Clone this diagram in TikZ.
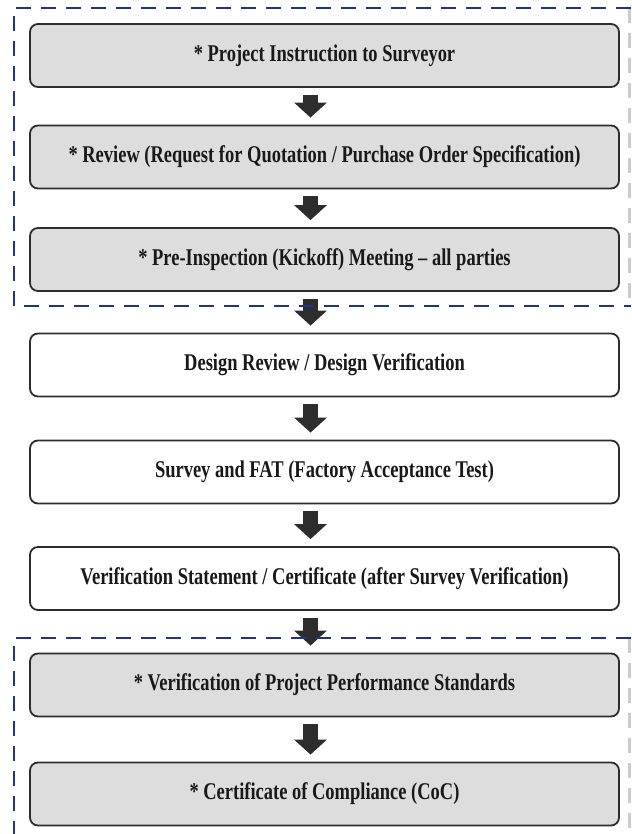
\documentclass[tikz,border=0pt]{standalone}
\usepackage{fontspec}
\usetikzlibrary{arrows.meta}
\newfontfamily\stagefont{Liberation Serif}[FakeStretch=0.77]
\definecolor{navy}{RGB}{28,52,140}
\definecolor{boxgray}{RGB}{221,221,221}
\definecolor{edgegray}{RGB}{45,45,45}

\begin{document}
\begin{tikzpicture}[x=1pt,y=-1pt,
        stage/.style={draw=edgegray,line width=1.8pt,rounded corners=8pt,minimum width=589pt,minimum height=63pt,inner sep=0pt,text=black!90,font=\stagefont\bfseries\fontsize{24}{27}\selectfont},
        graystage/.style={stage,fill=boxgray},
        whitestage/.style={stage,fill=white},
        flow/.style={edgegray,line width=15pt,-{Triangle[width=32pt,length=15pt]}},
        groupline/.style={navy,line width=2.6pt,dash pattern=on 15pt off 10pt},
        groupedge/.style={black!20,line width=3pt,dash pattern=on 15pt off 10pt}]
                \useasboundingbox (0,0) rectangle (631,834);
                \node[graystage] (instr) at (324.5,55.5) {* Project Instruction to Surveyor};
                \node[graystage] (review) at (324.5,157) {* Review (Request for Quotation / Purchase Order Specification)};
                \node[graystage] (kickoff) at (324.5,259.5) {* Pre-Inspection (Kickoff) Meeting – all parties};
                \node[whitestage] (design) at (324.5,365) {Design Review / Design Verification};
                \node[whitestage] (fat) at (324.5,472) {Survey and FAT (Factory Acceptance Test)};
                \node[whitestage] (statement) at (324.5,578.5) {Verification Statement / Certificate (after Survey Verification)};
                \node[graystage] (perf) at (324.5,685) {* Verification of Project Performance Standards};
                \node[graystage] (coc) at (324.5,794) {* Certificate of Compliance (CoC)};
                \foreach \a/\b in {instr/review,review/kickoff,kickoff/design,design/fat,fat/statement,statement/perf,perf/coc}
                    \draw[flow] ([xshift=-14pt,yshift=-7pt]\a.south) -- ([xshift=-14pt,yshift=7pt]\b.north);
                \coordinate (preTL) at (14,8);
                \coordinate (preBR) at (629,306);
                \coordinate (postTL) at (14,638);
                \coordinate (postBR) at (629,834);
                \draw[groupedge] (preBR|-preTL) -- (preBR);
                \draw[groupedge] (postBR|-postTL) -- (postBR);
                \draw[groupline] (631,8) -- (preTL) |- (631,306);
                \draw[groupline] (631,638) -- (postTL) -- (postTL|-postBR);
            \end{tikzpicture}
\end{document}
